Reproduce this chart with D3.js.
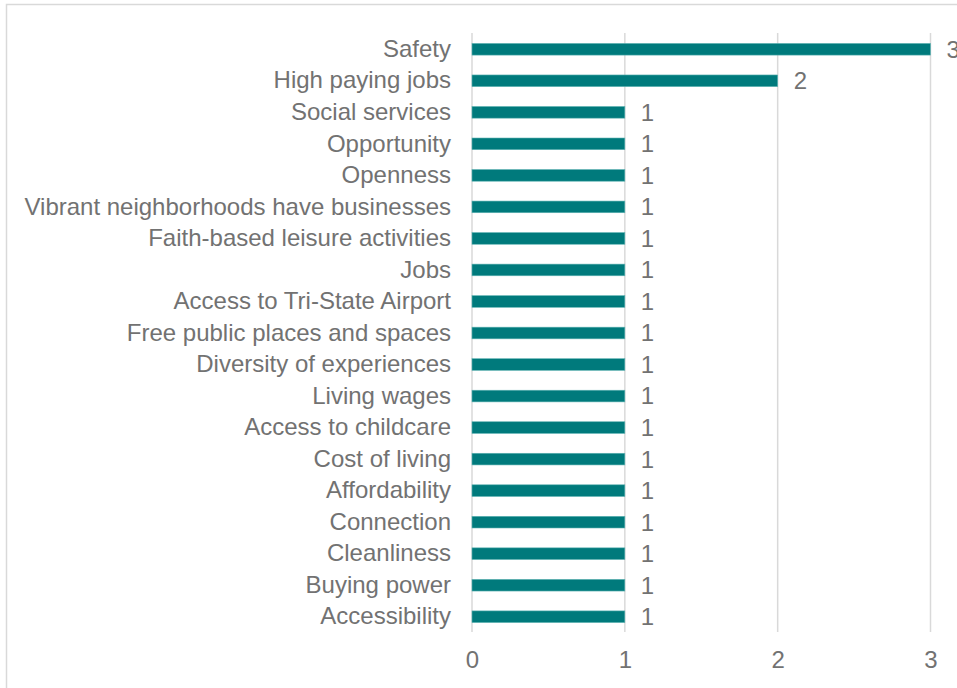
<!DOCTYPE html>
<html><head><meta charset="utf-8">
<script src="https://cdn.jsdelivr.net/npm/d3@7"></script>
<style>body{margin:0;background:#fff}svg{display:block}</style>
</head><body><svg id="c" width="957" height="688"></svg>
<script>
const categories = ["Safety","High paying jobs","Social services","Opportunity","Openness","Vibrant neighborhoods have businesses","Faith-based leisure activities","Jobs","Access to Tri-State Airport","Free public places and spaces","Diversity of experiences","Living wages","Access to childcare","Cost of living","Affordability","Connection","Cleanliness","Buying power","Accessibility"];
const values = [3,2,1,1,1,1,1,1,1,1,1,1,1,1,1,1,1,1,1];
const xTicks = [0,1,2,3];

const svg = d3.select("#c");
const font = "'Liberation Sans', Arial, sans-serif";
const grey = "#727272";
const fs = 24;
// outer border
svg.append("rect").attr("x",6.5).attr("y",4.5).attr("width",960).attr("height",700)
  .attr("fill","none").attr("stroke","#d9d9d9").attr("stroke-width",1.5);

const x = d3.scaleLinear().domain([0,3]).range([472,930.5]);
const y = d3.scaleBand().domain(categories).range([33.5,632.5]).paddingInner(0.63).paddingOuter(0.315);

svg.append("g").selectAll("line").data(xTicks).join("line")
  .attr("x1",d=>x(d)).attr("x2",d=>x(d)).attr("y1",33).attr("y2",632)
  .attr("stroke","#d9d9d9").attr("stroke-width",1.5);

svg.append("g").selectAll("rect").data(values).join("rect")
  .attr("x",x(0)).attr("y",(d,i)=>y(categories[i]))
  .attr("width",d=>x(d)-x(0)).attr("height",y.bandwidth())
  .attr("fill","#007A7C").attr("stroke","#5fb3b3").attr("stroke-width",0.6);

svg.append("g").selectAll("text").data(values).join("text")
  .attr("x",d=>x(d)+16).attr("y",(d,i)=>y(categories[i])+y.bandwidth()/2)
  .attr("dy","0.35em").attr("font-family",font).attr("font-size",fs).attr("fill",grey)
  .text(d=>d);

const yAxis = d3.axisLeft(y).tickSize(0).tickPadding(21);
const gy = svg.append("g").attr("transform",`translate(${x(0)},0)`).call(yAxis);
gy.select(".domain").remove();
gy.selectAll("text").attr("font-family",font).attr("font-size",fs).attr("fill",grey);

const xAxis = d3.axisBottom(x).tickValues(xTicks).tickSize(0).tickPadding(12).tickFormat(d3.format("d"));
const gx = svg.append("g").attr("transform","translate(0,639)").call(xAxis);
gx.select(".domain").remove();
gx.selectAll("text").attr("font-family",font).attr("font-size",fs).attr("fill",grey);
</script></body></html>
